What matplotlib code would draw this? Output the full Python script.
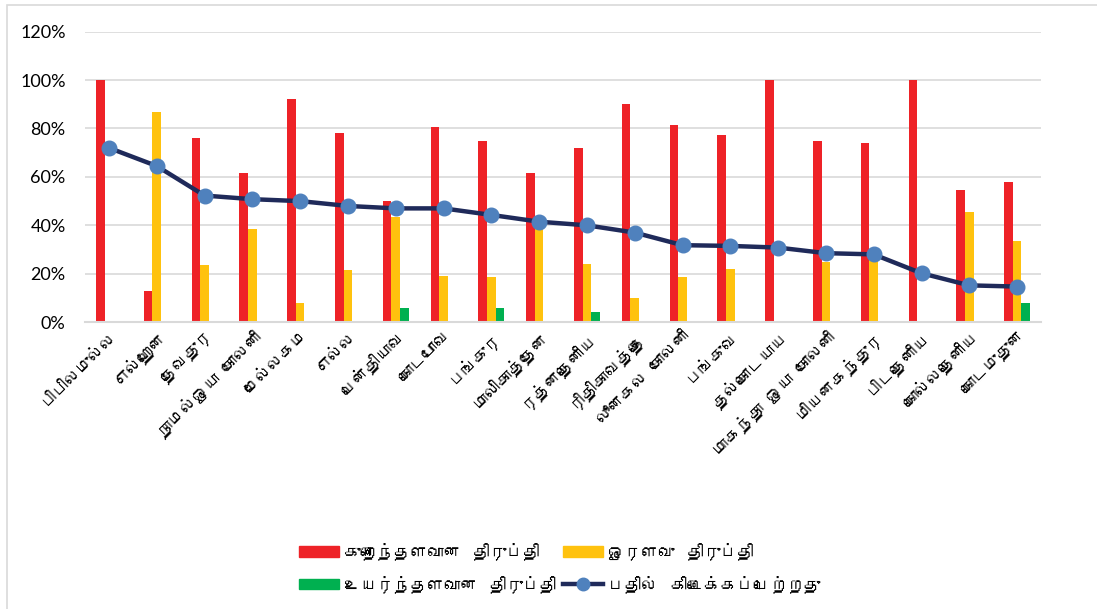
import matplotlib
matplotlib.use("Agg")
import matplotlib.pyplot as plt
from matplotlib import font_manager
from matplotlib.ft2font import FT2Font
from matplotlib.lines import Line2D
from matplotlib.patches import Patch, Rectangle
from matplotlib.ticker import PercentFormatter
import numpy as np

places = [
    "பிபிலமுல்ல", "எல்ஹேன", "தேவதுர", "நாமல்ஓயா  கோலனி", "மேல்லகம",
    "எல்ல", "பென்தியாவ", "கொடபோவ", "பங்குர", "மாலிகாத்தேன",
    "ரத்னதெனிய", "ரிதிகாவத்தை", "லூனகல  கோலனி", "பங்குவ", "தல்கொடயாய",
    "மாகந்தா  ஓயா  கோலனி", "மியனகந்துர", "பிடதெனிய", "கொல்லதெனிய", "கொடமுதுன",
]

low = [100, 13, 76, 61.5, 92, 78, 50, 80.5, 75, 61.5,
       72, 90, 81.5, 77.5, 100, 75, 74, 100, 54.5, 58]
medium = [0, 87, 23.5, 38.5, 8, 21.5, 43.5, 19, 18.5, 38.5,
          24, 10, 18.5, 22, 0, 25, 26, 0, 45.5, 33.5]
high = [0, 0, 0, 0, 0, 0, 6, 0, 6, 0,
        4, 0, 0, 0, 0, 0, 0, 0, 0, 8]
response = [72, 64.5, 52.3, 50.8, 50, 48, 47, 47, 44.3, 41.5,
            40, 37, 31.8, 31.5, 30.8, 28.5, 28, 20.2, 15.2, 14.7]

series_names = ["குறைந்தளவான   திருப்தி", "ஓரளவு   திருப்தி",
                "உயர்ந்தளவான   திருப்தி", "பதில்   கிடைக்கப்பெற்றது"]


def find_tamil_font():
    # look for any installed font that has Tamil letters
    for f in font_manager.fontManager.ttflist:
        try:
            cmap = FT2Font(f.fname).get_charmap()
        except Exception:
            continue
        if 0x0B95 in cmap and 0x0BBF in cmap:
            return f.name
    return None


tamil = find_tamil_font()
families = ["Lato"]
if tamil:
    families.append(tamil)
families.append("DejaVu Sans")
plt.rcParams["font.family"] = families

RED = "#ee2227"
YELLOW = "#ffc20e"
GREEN = "#00b050"
NAVY = "#1f2a5a"
MARKER = "#4f81bd"

fig = plt.figure(figsize=(10.97, 6.09), dpi=100)
ax = fig.add_axes([0.0775, 0.471, 0.8715, 0.477])

x = np.arange(len(places))
w = 0.18
ax.bar(x - w, np.array(low) / 100, w, color=RED, zorder=2)
ax.bar(x, np.array(medium) / 100, w, color=YELLOW, zorder=2)
ax.bar(x + w, np.array(high) / 100, w, color=GREEN, zorder=2)
ax.plot(x, np.array(response) / 100, color=NAVY, lw=3.2, marker="o",
        ms=10.5, mfc=MARKER, mec=MARKER, zorder=3)

ax.set_xlim(-0.5, len(places) - 0.5)
ax.set_ylim(0, 1.2)
ax.set_yticks(np.arange(0, 1.21, 0.2))
ax.yaxis.set_major_formatter(PercentFormatter(1.0, decimals=0))
ax.grid(axis="y", color="#d9d9d9", lw=1.2, zorder=0)
ax.set_axisbelow(True)
for s in ["top", "right", "left"]:
    ax.spines[s].set_visible(False)
ax.spines["bottom"].set_color("#d9d9d9")
ax.spines["bottom"].set_linewidth(1.5)
ax.tick_params(axis="y", length=0, labelsize=13, pad=14, colors="#000000")
ax.tick_params(axis="x", length=0, pad=4)
ax.set_xticks(x)
ax.set_xticklabels(places, rotation=45, ha="right", va="top",
                   rotation_mode="anchor", fontsize=12)

handles = [
    Patch(color=RED),
    Patch(color=GREEN),
    Patch(color=YELLOW),
    Line2D([], [], color=NAVY, lw=3.2, marker="o", ms=9, mfc=MARKER, mec=MARKER),
]
labels = [series_names[0], series_names[2], series_names[1], series_names[3]]
fig.legend(handles, labels, ncol=2, loc="center", bbox_to_anchor=(0.51, 0.068),
           frameon=False, fontsize=12, handlelength=2.4, handleheight=0.6,
           columnspacing=0.4, handletextpad=0.3, labelspacing=0.9)

# chart area border (cut off at right and bottom in the original)
fig.patches.append(Rectangle((7 / 1097, -0.1), 1.2, 1 - 5 / 609 + 0.1,
                             transform=fig.transFigure, fill=False,
                             edgecolor="#d9d9d9", lw=1.2))

fig.savefig("out.png", dpi=100)
